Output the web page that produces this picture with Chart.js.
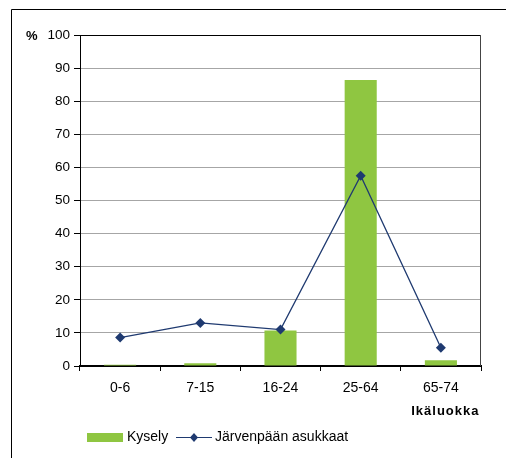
<!DOCTYPE html>
<html>
<head>
<meta charset="utf-8">
<script src="https://cdn.jsdelivr.net/npm/chart.js@4/dist/chart.umd.min.js"></script>
<style>
  html, body { margin: 0; padding: 0; background: #fff; }
  #wrap { position: relative; width: 506px; height: 458px; }
  canvas { display: block; }
</style>
</head>
<body>
<div id="wrap"><canvas id="c" width="506" height="458"></canvas></div>
<script>
// Age groups and shares (%)
const ageGroups = ['0-6', '7-15', '16-24', '25-64', '65-74'];
const surveyShare = [0.4, 0.8, 10.7, 86.4, 1.7];      // Kysely
const residentShare = [8.6, 13.0, 11.0, 57.5, 5.5];   // Järvenpään asukkaat
const yTicks = [0, 10, 20, 30, 40, 50, 60, 70, 80, 90, 100];

const seriesNames = ['Kysely', 'Järvenpään asukkaat'];
const axisUnit = '%';
const axisTitle = 'Ikäluokka';

const GREEN = '#8fc641';
const NAVY = '#1f3a70';
const FONT = '"Liberation Sans", Arial, sans-serif';

// Frame, plot border, unit label, axis title and legend
const decorations = {
  id: 'decorations',
  afterDraw(chart) {
    const ctx = chart.ctx;
    const a = chart.chartArea;
    ctx.save();
    // outer frame
    ctx.strokeStyle = '#000';
    ctx.lineWidth = 1;
    ctx.beginPath();
    ctx.moveTo(11.5, 458);
    ctx.lineTo(11.5, 9.5);
    ctx.lineTo(506, 9.5);
    ctx.stroke();
    // plot top / right border
    ctx.beginPath();
    ctx.moveTo(a.left, a.top + 0.5);
    ctx.lineTo(a.right, a.top + 0.5);
    ctx.stroke();
    ctx.strokeStyle = '#444';
    ctx.beginPath();
    ctx.moveTo(a.right - 0.5, a.top);
    ctx.lineTo(a.right - 0.5, a.bottom);
    ctx.stroke();

    ctx.fillStyle = '#000';
    ctx.textBaseline = 'middle';
    ctx.font = 'bold 13px ' + FONT;
    ctx.textAlign = 'left';
    ctx.fillText(axisUnit, 26, 36);

    ctx.font = 'bold 13px ' + FONT;
    ctx.textAlign = 'right';
    if ('letterSpacing' in ctx) ctx.letterSpacing = '1px';
    ctx.fillText(axisTitle, 479.5, 411);
    if ('letterSpacing' in ctx) ctx.letterSpacing = '0px';

    // legend: bar series first, then line series
    const bar = chart.data.datasets.find(d => d.type === 'bar');
    const line = chart.data.datasets.find(d => d.type === 'line');
    const ly = 437;
    ctx.font = '14px ' + FONT;
    ctx.textAlign = 'left';
    ctx.fillStyle = bar.backgroundColor;
    ctx.fillRect(87, ly - 4, 36, 9);
    ctx.fillStyle = '#000';
    ctx.fillText(bar.label, 127, ly);
    ctx.strokeStyle = line.borderColor;
    ctx.lineWidth = 1.2;
    ctx.beginPath();
    ctx.moveTo(176, ly + 0.5);
    ctx.lineTo(212, ly + 0.5);
    ctx.stroke();
    ctx.fillStyle = line.backgroundColor;
    ctx.beginPath();
    ctx.moveTo(194, ly - 4);
    ctx.lineTo(198, ly + 0.5);
    ctx.lineTo(194, ly + 5);
    ctx.lineTo(190, ly + 0.5);
    ctx.closePath();
    ctx.fill();
    ctx.fillStyle = '#000';
    ctx.fillText(line.label, 215, ly);
    ctx.restore();
  }
};

new Chart(document.getElementById('c'), {
  data: {
    labels: ageGroups,
    datasets: [
      {
        type: 'line',
        label: seriesNames[1],
        data: residentShare,
        borderColor: NAVY,
        backgroundColor: NAVY,
        borderWidth: 1.3,
        pointStyle: 'rectRot',
        pointRadius: 5,
        pointBorderWidth: 0,
        tension: 0,
        order: 0
      },
      {
        type: 'bar',
        label: seriesNames[0],
        data: surveyShare,
        backgroundColor: GREEN,
        borderWidth: 0,
        barPercentage: 0.8,
        categoryPercentage: 0.5,
        order: 1
      }
    ]
  },
  options: {
    responsive: false,
    animation: false,
    events: [],
    layout: { padding: { left: 0, top: 35, right: 25, bottom: 0 } },
    plugins: {
      legend: { display: false },
      tooltip: { enabled: false }
    },
    scales: {
      x: {
        offset: true,
        afterFit(s) { s.height = 92; },
        grid: {
          offset: true,
          drawOnChartArea: false,
          drawTicks: true,
          tickLength: 5,
          tickColor: '#000',
          tickWidth: 1
        },
        border: { color: '#000', width: 2 },
        ticks: {
          color: '#000',
          font: { family: FONT, size: 14 },
          padding: 9,
          maxRotation: 0
        }
      },
      y: {
        min: 0,
        max: 100,
        afterFit(s) { s.width = 80; },
        afterBuildTicks(s) { s.ticks = yTicks.map(v => ({ value: v })); },
        grid: {
          color: (c) => (c.tick && (c.tick.value === 0 || c.tick.value === 100)) ? 'rgba(0,0,0,0)' : '#a6a6a6',
          tickColor: '#000',
          tickLength: 6,
          lineWidth: 1
        },
        border: { color: '#000', width: 1 },
        ticks: {
          color: '#000',
          font: { family: FONT, size: 13.5 },
          padding: 4
        }
      }
    }
  },
  plugins: [decorations]
});
</script>
</body>
</html>
